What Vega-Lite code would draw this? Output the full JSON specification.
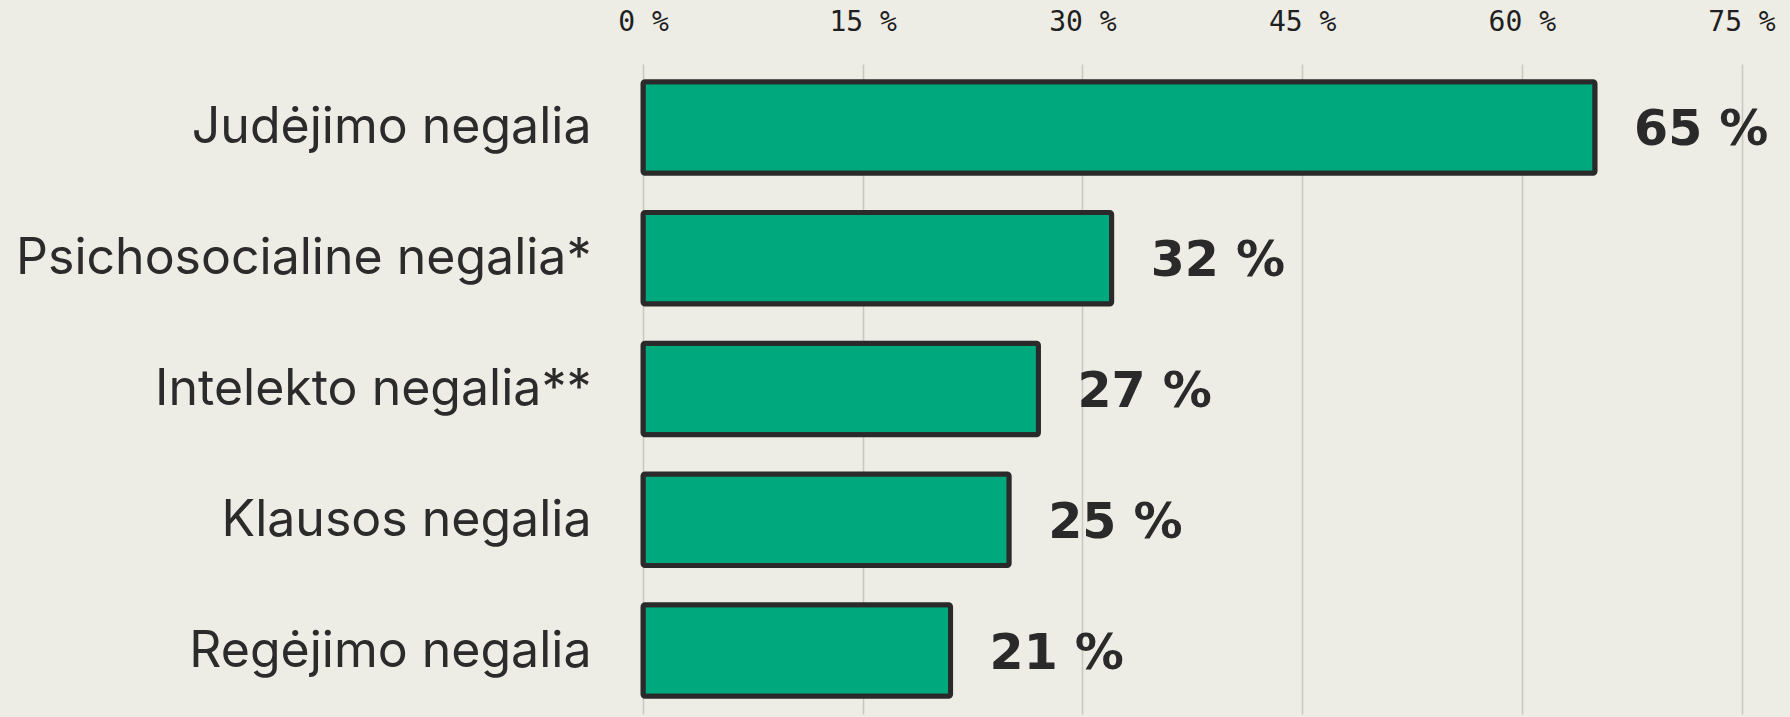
{
  "$schema": "https://vega.github.io/schema/vega-lite/v6.json",
  "width": 1098.5,
  "height": 650,
  "autosize": {"type": "none"},
  "padding": {"left": 643, "top": 64, "right": 48.5, "bottom": 3},
  "background": "#EDECE5",
  "config": {"view": {"stroke": null}},
  "data": {
    "values": [
      {"category": "Judėjimo negalia", "value": 65},
      {"category": "Psichosocialine negalia*", "value": 32},
      {"category": "Intelekto negalia**", "value": 27},
      {"category": "Klausos negalia", "value": 25},
      {"category": "Regėjimo negalia", "value": 21}
    ]
  },
  "encoding": {
    "y": {
      "field": "category",
      "type": "nominal",
      "sort": ["Judėjimo negalia", "Psichosocialine negalia*", "Intelekto negalia**", "Klausos negalia", "Regėjimo negalia"],
      "scale": {"paddingInner": 0.3, "paddingOuter": 0.135},
      "axis": {
        "title": null,
        "domain": false,
        "ticks": false,
        "tickSize": 0,
        "labelPadding": 52,
        "labelFont": "Inter",
        "labelFontSize": 50,
        "labelColor": "#2b2b2b",
        "labelBaseline": "alphabetic",
        "labelOffset": 16,
        "labelLimit": 700
      }
    },
    "x": {
      "field": "value",
      "type": "quantitative",
      "scale": {"domain": [0, 75], "nice": false},
      "axis": {
        "orient": "top",
        "title": null,
        "values": [0, 15, 30, 45, 60, 75],
        "labelExpr": "datum.value + ' %'",
        "domain": false,
        "ticks": false,
        "tickSize": 0,
        "labelPadding": 34,
        "labelBaseline": "alphabetic",
        "labelFont": "DejaVu Sans Mono",
        "labelFontSize": 28,
        "labelColor": "#1f1f1f",
        "grid": true,
        "gridColor": "#C8C7C2",
        "gridWidth": 1.5,
        "labelFlush": false
      }
    }
  },
  "layer": [
    {
      "mark": {"type": "bar", "fill": "#00A87E", "stroke": "#2A2A2A", "strokeWidth": 5, "cornerRadius": 2}
    },
    {
      "mark": {"type": "text", "align": "left", "baseline": "alphabetic", "dx": 39, "dy": 18, "font": "DejaVu Sans", "fontWeight": "bold", "fontSize": 49, "fill": "#2A2A2A"},
      "encoding": {"text": {"field": "label"}}
    }
  ],
  "transform": [{"calculate": "datum.value + ' %'", "as": "label"}]
}
